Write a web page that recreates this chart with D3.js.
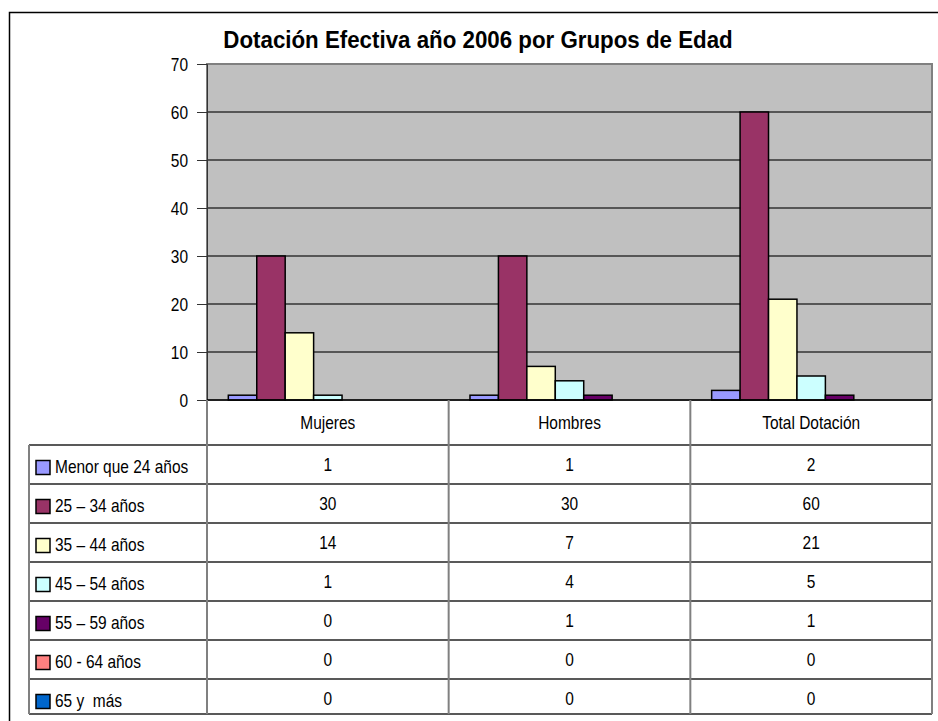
<!DOCTYPE html>
<html>
<head>
<meta charset="utf-8">
<script src="https://cdn.jsdelivr.net/npm/d3@7"></script>
<style>
  body { margin: 0; background: #fff; }
  svg { display: block; }
  text { white-space: pre; }
</style>
</head>
<body>
<svg id="chart" width="938" height="721"></svg>
<script>
// Data
const categories = ["Mujeres", "Hombres", "Total Dotación"];
const seriesNames = ["Menor que 24 años", "25 – 34 años", "35 – 44 años", "45 – 54 años", "55 – 59 años", "60 - 64 años", "65 y  más"];
const seriesColors = ["#9999ff", "#993366", "#ffffcc", "#ccffff", "#660066", "#ff8080", "#0066cc"];
const seriesValues = [
    [1, 1, 2],
    [30, 30, 60],
    [14, 7, 21],
    [1, 4, 5],
    [0, 1, 1],
    [0, 0, 0],
    [0, 0, 0]
];
const yTicks = [0, 10, 20, 30, 40, 50, 60, 70];

const svg = d3.select('#chart');
const font = "'Liberation Sans', Arial, sans-serif";
const narrow = 0.86; // squeeze to look like a narrow face

// Plot geometry
const plot = { left: 207, right: 932, top: 64, bottom: 400 };
const tableLeft = 29;
const rowH = 39;
const headTop = 400, headBottom = 445;

// narrow text helper: places text at (x, y) squeezed horizontally
function narrowText(sel, x, y, anchor) {
    return sel.append("text")
        .attr("transform", `translate(${x},${y}) scale(${narrow},1)`)
        .attr("text-anchor", anchor || "start")
        .attr("font-family", font)
        .attr("font-size", "18px")
        .attr("fill", "#000");
}

// Outer frame
svg.append("rect")
    .attr("x", 9.5).attr("y", 12.5)
    .attr("width", 940).attr("height", 720)
    .attr("fill", "#fff").attr("stroke", "#000").attr("stroke-width", 1.5);

// Title
svg.append("text")
    .attr("transform", "translate(478,48) scale(0.93,1)")
    .attr("text-anchor", "middle")
    .attr("font-family", font)
    .attr("font-weight", "bold")
    .attr("font-size", "24px")
    .text("Dotación Efectiva año 2006 por Grupos de Edad");

const x0 = d3.scaleBand()
    .domain(categories)
    .range([plot.left, plot.right]);

const x1 = d3.scaleBand()
    .domain(seriesNames)
    .range([0, x0.bandwidth()])
    .paddingOuter(0.75)
    .paddingInner(0);

const y = d3.scaleLinear()
    .domain([0, 70])
    .range([plot.bottom, plot.top]);

// Plot background
svg.append("rect")
    .attr("x", plot.left).attr("y", plot.top)
    .attr("width", plot.right - plot.left).attr("height", plot.bottom - plot.top)
    .attr("fill", "#c0c0c0");

// Gridlines
svg.append("g")
    .selectAll("line")
    .data(yTicks.filter(d => d > 0 && d < 70))
    .join("line")
    .attr("x1", plot.left).attr("x2", plot.right)
    .attr("y1", d => y(d)).attr("y2", d => y(d))
    .attr("stroke", "#333").attr("stroke-width", 1.3);

// Plot border (gray)
svg.append("rect")
    .attr("x", plot.left).attr("y", plot.top)
    .attr("width", plot.right - plot.left).attr("height", plot.bottom - plot.top)
    .attr("fill", "none").attr("stroke", "#808080").attr("stroke-width", 2);

// Y axis (ticks only, labels drawn narrow below)
const yAxis = d3.axisLeft(y)
    .tickValues(yTicks)
    .tickSize(10)
    .tickFormat("");

const gy = svg.append("g")
    .attr("transform", `translate(${plot.left},0)`)
    .call(yAxis);
gy.select(".domain").attr("stroke", "#333");
gy.selectAll(".tick line").attr("stroke", "#333");
gy.selectAll(".tick").each(function(d) {
    narrowText(d3.select(this), -19, 6, "end").text(d);
});

// Bars
const groups = svg.append("g")
    .selectAll("g")
    .data(seriesNames.map((name, i) => ({ name, color: seriesColors[i], values: seriesValues[i] })))
    .join("g")
    .attr("fill", d => d.color);

groups.selectAll("rect")
    .data(s => s.values.map((v, j) => ({ name: s.name, cat: categories[j], value: v })).filter(d => d.value > 0))
    .join("rect")
    .attr("x", d => x0(d.cat) + x1(d.name))
    .attr("y", d => y(d.value))
    .attr("width", x1.bandwidth())
    .attr("height", d => y(0) - y(d.value))
    .attr("stroke", "#000")
    .attr("stroke-width", 1.5);

// Baseline
svg.append("line")
    .attr("x1", plot.left).attr("x2", plot.right)
    .attr("y1", plot.bottom).attr("y2", plot.bottom)
    .attr("stroke", "#000").attr("stroke-width", 1.5);

// Data table
const tableBottom = headBottom + rowH * seriesNames.length - 4;
const table = svg.append("g");

// horizontal lines
const rowTops = seriesNames.map((d, i) => headBottom + i * rowH);
table.selectAll("line.h")
    .data(rowTops)
    .join("line")
    .attr("class", "h")
    .attr("x1", tableLeft).attr("x2", plot.right)
    .attr("y1", d => d).attr("y2", d => d)
    .attr("stroke", "#222").attr("stroke-width", 1.3);

table.append("line")
    .attr("x1", tableLeft).attr("x2", plot.right)
    .attr("y1", tableBottom).attr("y2", tableBottom)
    .attr("stroke", "#222").attr("stroke-width", 1.3);

// vertical lines
const vx = [plot.left].concat(categories.map(c => x0(c) + x0.bandwidth()));
table.selectAll("line.v")
    .data(vx)
    .join("line")
    .attr("class", "v")
    .attr("x1", d => d).attr("x2", d => d)
    .attr("y1", headTop).attr("y2", tableBottom)
    .attr("stroke", "#808080").attr("stroke-width", 2);

table.append("line")
    .attr("x1", tableLeft).attr("x2", tableLeft)
    .attr("y1", headBottom).attr("y2", tableBottom)
    .attr("stroke", "#808080").attr("stroke-width", 2);

// category labels
categories.forEach(c => {
    narrowText(table, x0(c) + x0.bandwidth() / 2, (headTop + headBottom) / 2 + 6, "middle").text(c);
});

// legend keys + names + values
seriesNames.forEach((name, i) => {
    const top = rowTops[i];
    table.append("rect")
        .attr("x", 36).attr("y", top + rowH / 2 - 4)
        .attr("width", 14).attr("height", 14)
        .attr("fill", seriesColors[i])
        .attr("stroke", "#000").attr("stroke-width", 1.5);
    narrowText(table, 55, top + rowH / 2 + 8).text(name);
    seriesValues[i].forEach((v, j) => {
        narrowText(table, x0(categories[j]) + x0.bandwidth() / 2, top + rowH / 2 + 6, "middle").text(v);
    });
});
</script>
</body>
</html>
